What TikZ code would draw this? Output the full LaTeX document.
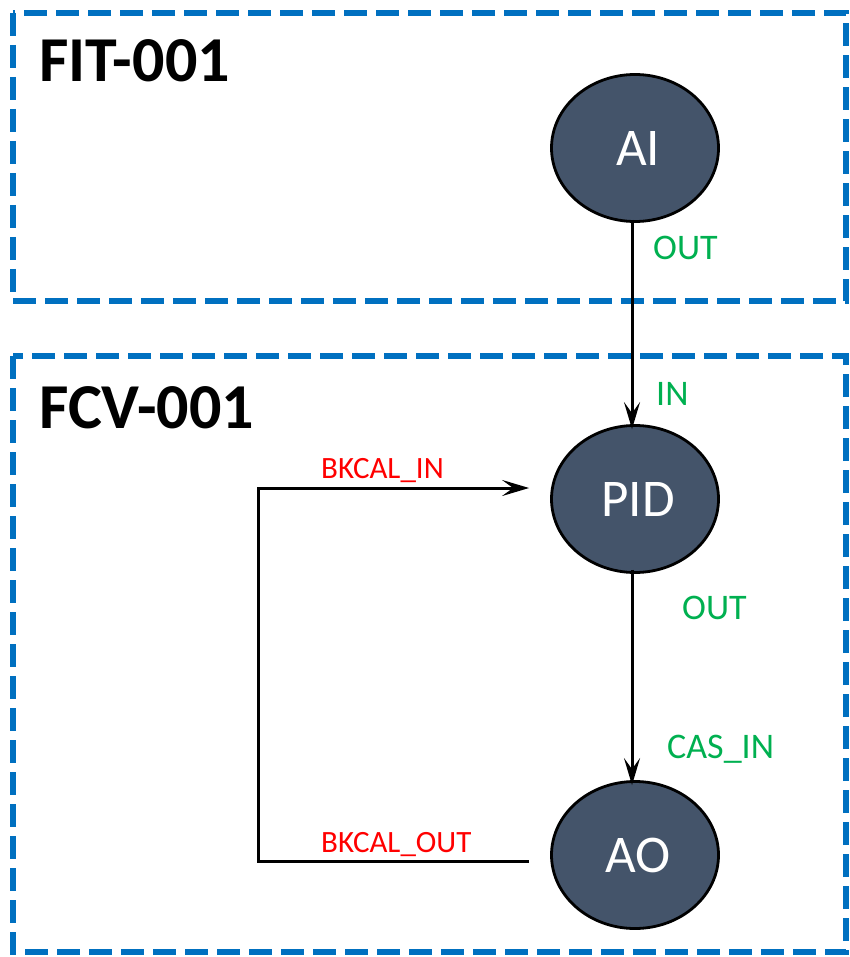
\documentclass[tikz,border=0pt]{standalone}
\usepackage{fontspec}
\setmainfont{Carlito}
\usepackage{xcolor}
\usetikzlibrary{shapes.geometric,arrows.meta}

\definecolor{zoneblue}{HTML}{0070C0}
\definecolor{blockfill}{HTML}{44546A}
\definecolor{portgreen}{HTML}{00B050}
\definecolor{bkred}{HTML}{FF0000}

\tikzset{
  zone/.style={draw=zoneblue, line width=6pt, dash pattern=on 23pt off 9pt},
  block/.style={ellipse, draw=black, line width=2.8pt, fill=blockfill,
    minimum width=167pt, minimum height=147pt, inner sep=0pt,
    text=white, font=\fontsize{53}{53}\selectfont},
  link/.style={draw=black, line width=3pt,
    -{Stealth[length=27pt,width=16pt,inset=11pt]}},
  port/.style={text=portgreen, font=\fontsize{36}{36}\selectfont, inner sep=0pt, anchor=base west},
  bkport/.style={text=bkred, font=\fontsize{31}{31}\selectfont, inner sep=0pt, anchor=base west},
  zonetitle/.style={font=\bfseries\fontsize{64}{64}\selectfont, inner sep=0pt, anchor=base west}
}

\begin{document}
\begin{tikzpicture}[x=1pt,y=-1pt]
\useasboundingbox (0,0) rectangle (849,957);

% --- Zones ---
\draw[zone] (13,13) rectangle (846,301);
\draw[zone] (13,356) rectangle (846,952);
\node[zonetitle] (fit) at (39,82) {FIT-001};
\node[zonetitle] (fcv) at (39,428) {FCV-001};

% --- Blocks ---
\node[block] (ai) at (635,148) {\hspace*{6pt}AI};
\node[block] (pid) at (635,499) {\hspace*{6pt}PID};
\node[block] (ao) at (635,855) {\hspace*{6pt}AO};

% --- AI to PID ---
\draw[link] ([xshift=-3,yshift=3]ai.south) -- ([xshift=-3,yshift=-5]pid.north);
\node[port] (aiout) at (653,260) {OUT};
\node[port] (pidin) at (656,405) {IN};

% --- PID to AO ---
\draw[link] ([xshift=-3,yshift=4]pid.south) -- ([xshift=-3,yshift=-5]ao.north);
\node[port] (pidout) at (682,619) {OUT};
\node[port] (aocas) at (667,758) {CAS\_IN};

% --- Back calculation loop ---
\draw[link] ([shift={(-21,6)}]ao.west) -- ++(-271,0) |- ([shift={(-21,-11)}]pid.west);
\node[bkport] (bkin) at (321,478) {BKCAL\_IN};
\node[bkport] (bkout) at (321,852) {BKCAL\_OUT};
\end{tikzpicture}
\end{document}
